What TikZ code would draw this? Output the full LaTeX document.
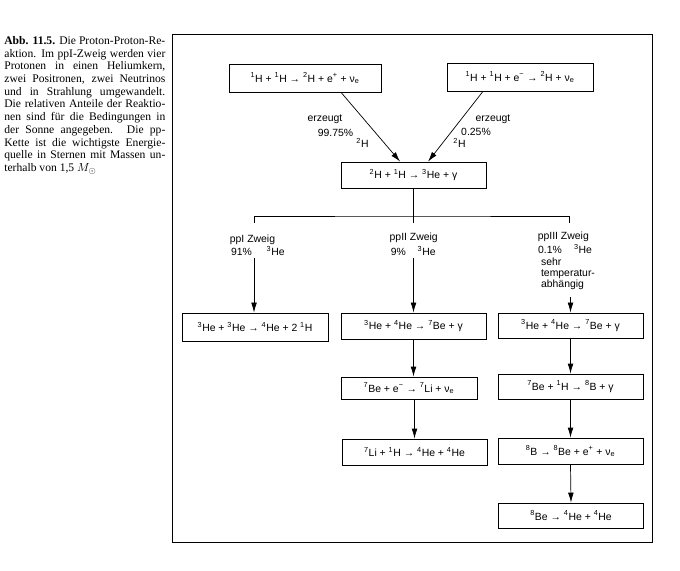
\documentclass[tikz,border=0pt]{standalone}
\usepackage{fontspec}
\setmainfont{Liberation Serif}
\setsansfont{Liberation Sans}
\usetikzlibrary{arrows.meta}
\newcommand{\nuc}[2]{\textsuperscript{#1}#2}
\newcommand{\nue}{ν\textsubscript{e}}
\begin{document}
\begin{tikzpicture}[x=0.03cm, y=-0.03cm, line width=0.6pt,
        every node/.style={font=\sffamily\fontsize{8.9}{9.2}\selectfont},
        box/.style={draw, rectangle, minimum width=4.35cm, minimum height=0.78cm, inner sep=1pt},
        lbl/.style={inner sep=0pt},
        flow/.style={-{Latex[length=3mm,width=1.7mm]}}]
        \useasboundingbox (0,0) rectangle (680,571);

        % Caption
        \node[anchor=north west, inner sep=0pt, text width=4.83cm, align=justify,
              font=\rmfamily\fontsize{9.9}{10.85}\selectfont] (caption) at (4,36)
              {\textbf{Abb. 11.5.} Die Proton-Proton-Re-\linebreak
               aktion. Im ppI-Zweig werden vier\linebreak
               Protonen in einen Heliumkern,\linebreak
               zwei Positronen, zwei Neutrinos\linebreak
               und in Strahlung umgewandelt.\linebreak
               Die relativen Anteile der Reaktio-\linebreak
               nen sind für die Bedingungen in\linebreak
               der Sonne angegeben. Die pp-\linebreak
               Kette ist die wichtigste Energie-\linebreak
               quelle in Sternen mit Massen un-\linebreak
               terhalb von 1,5~$M_\odot$};

        % Frame
        \draw (172,34) rectangle (652,542);

        % Deuterium production
        \node[box, minimum width=4.56cm, minimum height=0.84cm] (pp) at (305,78)
              {\nuc{1}{H} + \nuc{1}{H} → \nuc{2}{H} + e\textsuperscript{+} + \nue};
        \node[box, minimum width=4.38cm, minimum height=0.84cm] (pep) at (520,77)
              {\nuc{1}{H} + \nuc{1}{H} + e\textsuperscript{−} → \nuc{2}{H} + \nue};

        % Helium-3
        \node[box] (dp) at (413.5,175) {\nuc{2}{H} + \nuc{1}{H} → \nuc{3}{He} + γ};

        \draw[flow] ([xshift=1.08cm]pp.south) -- ([xshift=-0.4cm]dp.north);
        \draw[flow] ([xshift=-1.11cm]pep.south) -- ([xshift=0.435cm]dp.north);

        \node[lbl] (erzL) at (325,119) {erzeugt};
        \node[lbl] (pctpp) at (335.5,133) {99.75\%};
        \node[lbl] (dL) at (362.5,143) {\nuc{2}{H}};
        \node[lbl] (erzR) at (493,119) {erzeugt};
        \node[lbl] (pctpep) at (476,132) {0.25\%};
        \node[lbl] (dR) at (459.5,143) {\nuc{2}{H}};

        % Branching
        \coordinate (jn) at (413.5,216);
        \coordinate (bl) at (254,223);
        \coordinate (bc) at (413.5,223);
        \coordinate (br) at (569,223);
        \draw (dp.south) -- (bc);
        \draw (bl) |- (jn) -| (br);

        \node[lbl] (zwI) at (252.5,240) {ppI Zweig};
        \node[lbl] (pctI) at (241.5,252) {91\%};
        \node[lbl] (heI) at (275.7,251) {\nuc{3}{He}};
        \node[lbl] (zwII) at (413.7,238) {ppII Zweig};
        \node[lbl] (pctII) at (398.3,252) {9\%};
        \node[lbl] (heII) at (426.7,251) {\nuc{3}{He}};
        \node[lbl] (zwIII) at (563.3,237) {ppIII Zweig};
        \node[lbl] (pctIII) at (550,250) {0.1\%};
        \node[lbl] (heIII) at (583,249) {\nuc{3}{He}};
        \node[lbl, anchor=north west, align=left] (temp) at (540.7,258)
              {sehr\\temperatur-\\abhängig};

        % ppI
        \node[box, minimum width=4.38cm, minimum height=0.84cm] (I1) at (255,327)
              {\nuc{3}{He} + \nuc{3}{He} → \nuc{4}{He} + 2 \nuc{1}{H}};

        % ppII
        \node[box] (II1) at (413.5,326) {\nuc{3}{He} + \nuc{4}{He} → \nuc{7}{Be} + γ};
        \node[box, minimum width=4.08cm, minimum height=0.66cm] (II2) at (409,388)
              {\nuc{7}{Be} + e\textsuperscript{−} → \nuc{7}{Li} + \nue};
        \node[box] (II3) at (414.5,452) {\nuc{7}{Li} + \nuc{1}{H} → \nuc{4}{He} + \nuc{4}{He}};

        % ppIII
        \node[box, minimum height=0.75cm] (III1) at (570.5,325.5) {\nuc{3}{He} + \nuc{4}{He} → \nuc{7}{Be} + γ};
        \node[box, minimum height=0.75cm] (III2) at (570.5,386.5) {\nuc{7}{Be} + \nuc{1}{H} → \nuc{8}{B} + γ};
        \node[box] (III3) at (570.5,451) {\nuc{8}{B} → \nuc{8}{Be} + e\textsuperscript{+} + \nue};
        \node[box, minimum height=0.75cm] (III4) at (571,515.5) {\nuc{8}{Be} → \nuc{4}{He} + \nuc{4}{He}};

        % Connections
        \coordinate (al) at (254,258);
        \coordinate (ac) at (413.5,258);
        \coordinate (ar) at (570.5,297);
        \draw[flow] (al) -- (al |- I1.north);
        \draw[flow] (ac) -- (II1.north);
        \draw[flow] (ar) -- (III1.north);
        \draw[flow] (II1.south) -- (II1.south |- II2.north);
        \draw[flow] (II2.south -| II3.north) -- (II3.north);
        \draw[flow] (III1.south) -- (III2.north);
        \draw[flow] (III2.south) -- (III3.north);
        \draw[flow] (III3.south) -- (III4.north);
\end{tikzpicture}
\end{document}
